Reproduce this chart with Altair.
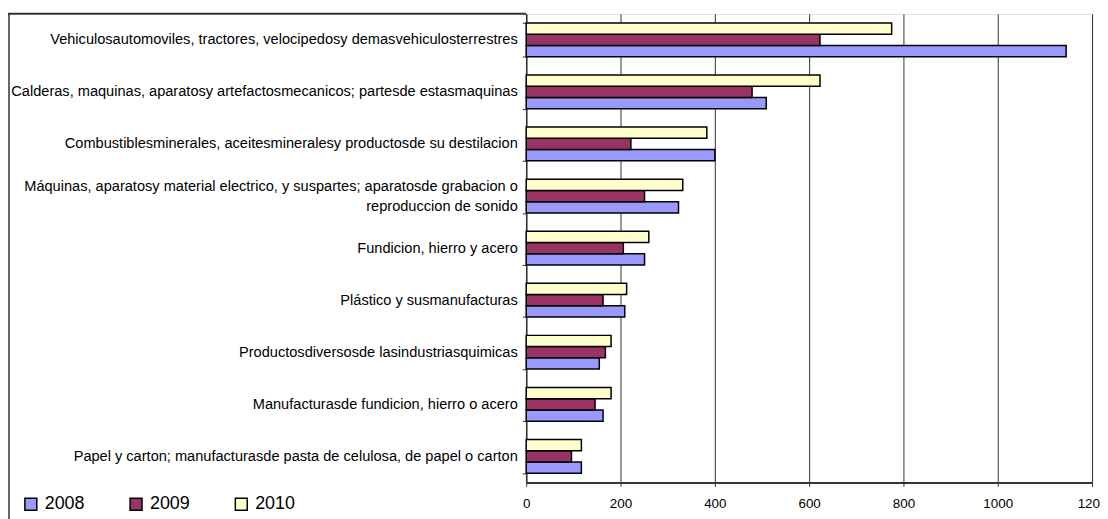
import altair as alt
import pandas as pd

categories = [
    "Vehiculosautomoviles, tractores, velocipedosy demasvehiculosterrestres",
    "Calderas, maquinas, aparatosy artefactosmecanicos; partesde estasmaquinas",
    "Combustiblesminerales, aceitesmineralesy productosde su destilacion",
    "Máquinas, aparatosy material electrico, y suspartes; aparatosde grabacion o|reproduccion de sonido",
    "Fundicion, hierro y acero",
    "Plástico y susmanufacturas",
    "Productosdiversosde lasindustriasquimicas",
    "Manufacturasde fundicion, hierro o acero",
    "Papel y carton; manufacturasde pasta de celulosa, de papel o carton",
]
years = ["2008", "2009", "2010"]
v2008 = [1145, 509, 400, 323, 251, 209, 155, 163, 117]
v2009 = [623, 479, 222, 251, 206, 163, 168, 146, 96]
v2010 = [775, 623, 383, 332, 260, 213, 180, 180, 117]
x_ticks = [0, 200, 400, 600, 800, 1000, 1200]
colors = ["#9999FF", "#993366", "#FFFFCC"]

rows = []
for series, year in zip([v2008, v2009, v2010], years):
    for cat, val in zip(categories, series):
        rows.append({"cat": cat, "year": year, "value": val})
df = pd.DataFrame(rows)

FONT = "Liberation Sans"

bars = alt.Chart(df).mark_bar(stroke="black", strokeWidth=1.5).encode(
    y=alt.Y(
        "cat:N",
        sort=categories,
        title=None,
        scale=alt.Scale(paddingInner=0.352, paddingOuter=0.176),
        axis=alt.Axis(
            labelExpr="datum.value ? split(datum.value, '|') : ''",
            labelFont=FONT,
            labelFontSize=14.7,
            labelColor="black",
            labelLimit=700,
            labelPadding=5,
            labelLineHeight=21,
            labelOffset={"condition": {"test": "isString(datum.value) && indexof(datum.value, '|') >= 0", "value": -10}, "value": 0},
            tickBand="extent",
            tickSize=4,
            tickColor="#333333",
            domainColor="#333333",
            domainWidth=1.5,
            grid=False,
        ),
    ),
    yOffset=alt.YOffset("year:N", sort=["2010", "2009", "2008"], scale=alt.Scale(paddingInner=0, paddingOuter=0)),
    x=alt.X(
        "value:Q",
        title=None,
        scale=alt.Scale(domain=[0, 1200], nice=False),
        axis=alt.Axis(
            values=x_ticks,
            format="d",
            labelFont=FONT,
            labelFontSize=13.5,
            labelColor="black",
            labelPadding=10,
            tickSize=4,
            tickColor="#333333",
            domainColor="#333333",
            domainWidth=2,
            grid=True,
            gridColor="#333333",
            gridWidth=1,
            labelFlush=False,
        ),
    ),
    color=alt.Color(
        "year:N",
        scale=alt.Scale(domain=years, range=colors),
        legend=alt.Legend(
            title=None,
            orient="none",
            legendX=-508,
            legendY=485,
            direction="horizontal",
            symbolType="square",
            symbolSize=144,
            symbolStrokeColor="black",
            symbolStrokeWidth=1.5,
            symbolOpacity=1,
            labelFont=FONT,
            labelFontSize=18,
            labelColor="black",
            labelOffset=5,
            gridAlign="all",
            columnPadding=42,
        ),
    ),
)

frame_left = alt.Chart().mark_rule(color="#333333", strokeWidth=1.5).encode(
    x=alt.value(-521), y=alt.value(0), y2=alt.value(520)
)
frame_top = alt.Chart().mark_rule(color="#333333", strokeWidth=2).encode(
    x=alt.value(-522), x2=alt.value(0), y=alt.value(0)
)

chart = alt.layer(bars, frame_left, frame_top).properties(
    width=570,
    height=472,
    autosize=alt.AutoSizeParams(type="none"),
    padding={"left": 522, "top": 4, "right": 8, "bottom": 35},
).configure_view(stroke="#333333", strokeWidth=2).configure(background="white")

chart.save("out.html", embed_options={"renderer": "svg", "actions": False})
